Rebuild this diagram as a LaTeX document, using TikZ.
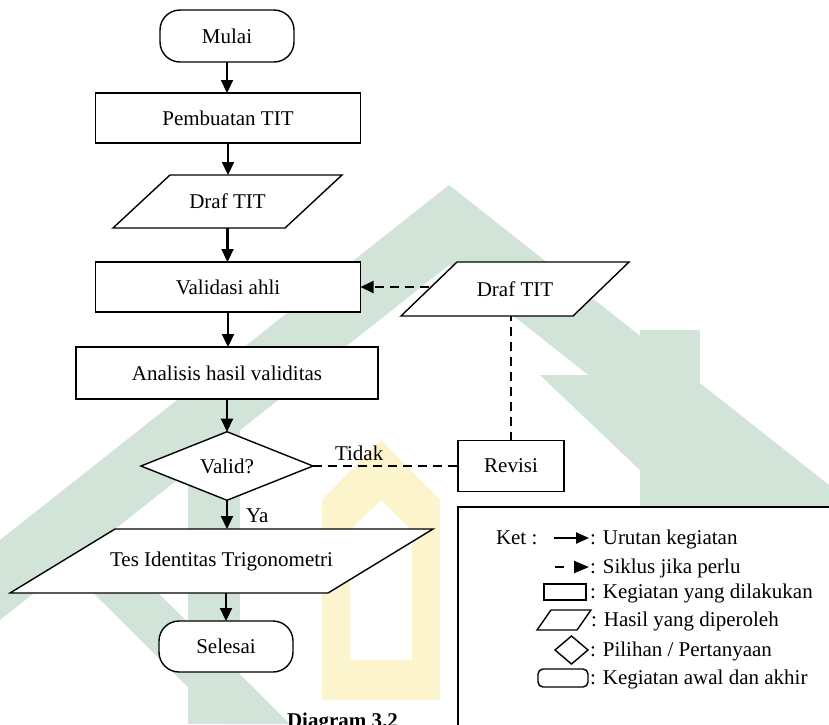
\documentclass[tikz,border=0pt]{standalone}
\usepackage{fontspec}
\setmainfont{Liberation Serif}
\usetikzlibrary{shapes.geometric,arrows.meta,calc}
\definecolor{wmgreen}{HTML}{D2E3D8}
\definecolor{wmyellow}{HTML}{FCF4CC}
\newcommand\paraShape[4]{%
  \draw[shp] ($(#1)+(-#2+#3,-#4)$) -- ($(#1)+(#2+#3,-#4)$) -- ($(#1)+(#2-#3,#4)$) -- ($(#1)+(-#2-#3,#4)$) -- cycle;}
\begin{document}
\begin{tikzpicture}[x=1pt,y=-1pt,
  every node/.style={font=\fontsize{21}{25}\selectfont, inner sep=0pt, outer sep=0pt},
  shp/.style={draw, line width=1.4pt, fill=white, line join=miter},
  procbox/.style={shp, rectangle, minimum height=50pt},
  termbox/.style={shp, rectangle, rounded corners=20pt, minimum width=134pt, minimum height=52pt},
  paranode/.style={draw=none, fill=none, minimum width=60pt},
  decbox/.style={shp, diamond, minimum width=172pt, minimum height=64pt},
  arr/.style={line width=2.2pt, -{Triangle[length=13pt,width=12pt]}},
  dashline/.style={line width=2pt, dash pattern=on 9pt off 6pt},
  dasharr/.style={dashline, -{Triangle[length=13pt,width=12pt]}},
  lbl/.style={anchor=base west}
]
\useasboundingbox (0,0) rectangle (829,724);
\fill[white] (0,0) rectangle (829,724);

% watermark (approximate)
\fill[wmgreen] (0,540) -- (449,185) -- (829,485) -- (829,565) -- (449,265) -- (0,620) -- cycle;
\fill[wmgreen] (188,380) rectangle (240,724);
\fill[wmgreen] (640,330) rectangle (700,724);
\fill[wmgreen] (540,375) -- (630,375) -- (829,560) -- (829,650) -- cycle;
\fill[wmgreen] (60,560) -- (125,560) -- (290,724) -- (225,724) -- cycle;
\fill[white] (0,0) -- (0,0);
\fill[wmyellow, even odd rule] (322,700) -- (322,500) -- (381,440) -- (440,500) -- (440,700) -- cycle
  (350,660) -- (350,530) -- (381,500) -- (412,530) -- (412,660) -- cycle;

% flowchart nodes
\node[termbox] (mulai) at (227,36) {Mulai};
\node[procbox, minimum width=265pt] (pemb) at (228,118) {Pembuatan TIT};
\coordinate (d1c) at (227.5,201.5);
\paraShape{d1c}{86}{28.5}{26.5}
\node[paranode, minimum height=53pt] (draf1) at (d1c) {Draf TIT};
\node[procbox, minimum width=265pt] (val) at (228,287) {Validasi ahli};
\node[procbox, minimum width=302pt, minimum height=52pt] (anal) at (227,373) {Analisis hasil validitas};
\node[decbox] (dec) at (227,466) {Valid?};
\coordinate (tc) at (221.5,561);
\paraShape{tc}{159}{52.5}{32}
\node[paranode, minimum height=64pt] (tes) at (tc) {\raisebox{3pt}{Tes Identitas Trigonometri}};
\node[termbox, minimum height=51pt] (sel) at (226,646.5) {Selesai};
\coordinate (d2c) at (515,289);
\paraShape{d2c}{86}{28}{27}
\node[paranode, minimum height=54pt] (draf2) at (d2c) {Draf TIT};
\node[procbox, minimum width=106pt, minimum height=51pt] (rev) at (511,466) {Revisi};
\coordinate (d2l) at ($(d2c)+(-86,-2)$);

% connectors
\draw[arr] (mulai.south) -- (mulai.south |- pemb.north);
\draw[arr] (pemb.south) -- (pemb.south |- draf1.north);
\draw[arr] (draf1.south) -- (draf1.south |- val.north);
\draw[arr] (val.south) -- (val.south |- anal.north);
\draw[arr] (anal.south) -- (anal.south |- dec.north);
\draw[arr] (dec.south) -- (dec.south |- tes.north);
\draw[arr] (tes.south -| sel.north) -- (sel.north);
\draw[dasharr] (d2l) -- (d2l -| val.east);
\draw[dashline] (rev.north) -- (rev.north |- draf2.south);
\draw[dashline] (dec.east) -- (rev.west);
\node[lbl] (tidak) at (335,460) {Tidak};
\node[lbl] (ya) at (246,522) {Ya};

% caption (cut off at the bottom edge, as in the reference)
\node[lbl, font=\fontsize{21}{25}\selectfont\bfseries] (cap) at (287,727) {Diagram 3.2};

% legend
\draw[line width=1.4pt, fill=white] (458,507) rectangle (900,800);
\node[lbl] (ket) at (496,544.5) {Ket :};
\draw[line width=2.2pt, -{Triangle[length=13pt,width=11pt]}] (554,538) -- (589,538);
\node[lbl] (l1) at (590,544.5) {: Urutan kegiatan};
\draw[line width=2.2pt] (555,567) -- (564,567);
\draw[line width=2.2pt, -{Triangle[length=15pt,width=12pt]}] (575,567) -- (589,567);
\node[lbl] (l2) at (590,573) {: Siklus jika perlu};
\draw[line width=1.4pt] (544,584) rectangle (586,600);
\node[lbl] (l3) at (590,598) {: Kegiatan yang dilakukan};
\draw[line width=1.4pt, line join=miter] (551,610) -- (591,610) -- (577,630) -- (537,630) -- cycle;
\node[lbl] (l4) at (591,626) {: Hasil yang diperoleh};
\draw[line width=1.4pt] (555,650) -- (571.5,636) -- (588,650) -- (571.5,664) -- cycle;
\node[lbl] (l5) at (590,656) {: Pilihan / Pertanyaan};
\draw[line width=1.4pt, rounded corners=5pt] (538,669) rectangle (588,687);
\node[lbl] (l6) at (590,684) {: Kegiatan awal dan akhir};
\end{tikzpicture}
\end{document}
